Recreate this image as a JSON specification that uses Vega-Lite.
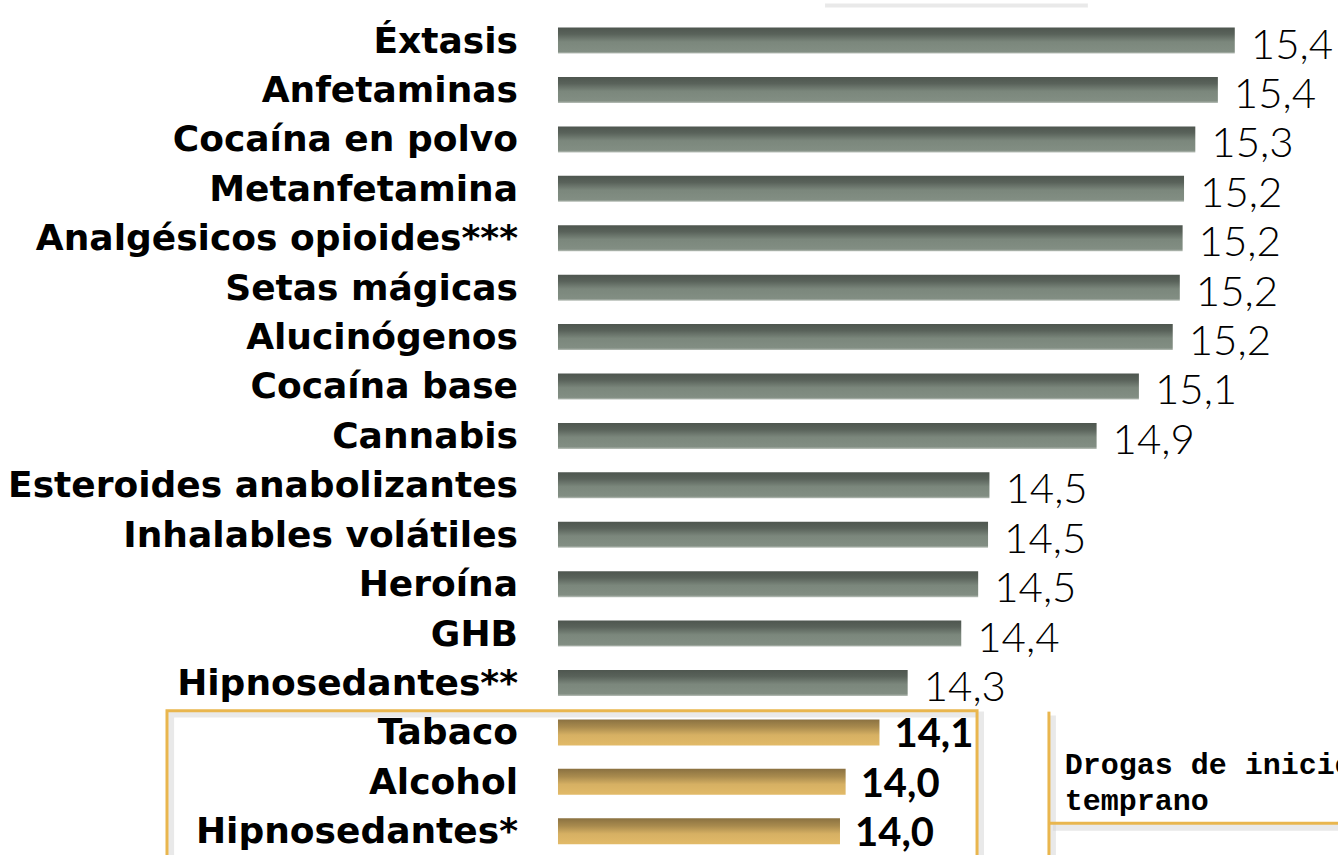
{
  "$schema": "https://vega.github.io/schema/vega-lite/v6.json",
  "width": 1338,
  "height": 855,
  "autosize": {"type": "none"},
  "padding": 0,
  "background": "white",
  "config": {"view": {"stroke": null}},
  "data": {
    "values": [
      {"orden": 1, "droga": "Éxtasis", "valor": 15.40, "etiqueta": "15,4", "grupo": "otras"},
      {"orden": 2, "droga": "Anfetaminas", "valor": 15.34, "etiqueta": "15,4", "grupo": "otras"},
      {"orden": 3, "droga": "Cocaína en polvo", "valor": 15.26, "etiqueta": "15,3", "grupo": "otras"},
      {"orden": 4, "droga": "Metanfetamina", "valor": 15.22, "etiqueta": "15,2", "grupo": "otras"},
      {"orden": 5, "droga": "Analgésicos opioides***", "valor": 15.215, "etiqueta": "15,2", "grupo": "otras"},
      {"orden": 6, "droga": "Setas mágicas", "valor": 15.205, "etiqueta": "15,2", "grupo": "otras"},
      {"orden": 7, "droga": "Alucinógenos", "valor": 15.18, "etiqueta": "15,2", "grupo": "otras"},
      {"orden": 8, "droga": "Cocaína base", "valor": 15.06, "etiqueta": "15,1", "grupo": "otras"},
      {"orden": 9, "droga": "Cannabis", "valor": 14.91, "etiqueta": "14,9", "grupo": "otras"},
      {"orden": 10, "droga": "Esteroides anabolizantes", "valor": 14.53, "etiqueta": "14,5", "grupo": "otras"},
      {"orden": 11, "droga": "Inhalables volátiles", "valor": 14.525, "etiqueta": "14,5", "grupo": "otras"},
      {"orden": 12, "droga": "Heroína", "valor": 14.49, "etiqueta": "14,5", "grupo": "otras"},
      {"orden": 13, "droga": "GHB", "valor": 14.43, "etiqueta": "14,4", "grupo": "otras"},
      {"orden": 14, "droga": "Hipnosedantes**", "valor": 14.24, "etiqueta": "14,3", "grupo": "otras"},
      {"orden": 15, "droga": "Tabaco", "valor": 14.14, "etiqueta": "14,1", "grupo": "inicio"},
      {"orden": 16, "droga": "Alcohol", "valor": 14.02, "etiqueta": "14,0", "grupo": "inicio"},
      {"orden": 17, "droga": "Hipnosedantes*", "valor": 14.0, "etiqueta": "14,0", "grupo": "inicio"}
    ]
  },
  "layer": [
    {
      "data": {"values": [{}]},
      "mark": {"type": "rect", "filled": false, "stroke": "#d4d4d4", "strokeWidth": 6, "strokeOpacity": 0.5},
      "encoding": {
        "x": {"datum": 11.628, "type": "quantitative", "scale": {"domain": [11.0213, 15.766], "nice": false, "zero": false}, "axis": null},
        "x2": {"datum": 14.50},
        "y": {"datum": 14.64, "type": "quantitative", "scale": {"domain": [0.28, 17.38], "reverse": true, "nice": false, "zero": false}, "axis": null},
        "y2": {"datum": 17.8}
      }
    },
    {
      "data": {"values": [{}]},
      "mark": {"type": "rect", "filled": false, "stroke": "#e9b64e", "strokeWidth": 3},
      "encoding": {
        "x": {"datum": 11.6135, "type": "quantitative"},
        "x2": {"datum": 14.486},
        "y": {"datum": 14.56, "type": "quantitative"},
        "y2": {"datum": 17.8}
      }
    },
    {
      "data": {"values": [{}]},
      "mark": {"type": "rule", "stroke": "#d4d4d4", "strokeWidth": 6, "strokeOpacity": 0.5},
      "encoding": {
        "x": {"datum": 14.755, "type": "quantitative"},
        "y": {"datum": 14.66, "type": "quantitative"},
        "y2": {"datum": 17.8}
      }
    },
    {
      "data": {"values": [{}]},
      "mark": {"type": "rule", "stroke": "#d4d4d4", "strokeWidth": 7, "strokeOpacity": 0.5},
      "encoding": {
        "x": {"datum": 14.755, "type": "quantitative"},
        "x2": {"datum": 15.9},
        "y": {"datum": 16.92, "type": "quantitative"}
      }
    },
    {
      "data": {"values": [{}]},
      "mark": {"type": "rule", "stroke": "#e9b64e", "strokeWidth": 3},
      "encoding": {
        "x": {"datum": 14.741, "type": "quantitative"},
        "y": {"datum": 14.58, "type": "quantitative"},
        "y2": {"datum": 17.8}
      }
    },
    {
      "data": {"values": [{}]},
      "mark": {"type": "rule", "stroke": "#e9b64e", "strokeWidth": 3},
      "encoding": {
        "x": {"datum": 14.741, "type": "quantitative"},
        "x2": {"datum": 15.9},
        "y": {"datum": 16.84, "type": "quantitative"}
      }
    },
    {
      "data": {"values": [{}]},
      "mark": {"type": "rule", "stroke": "#e4e4e4", "strokeWidth": 4, "strokeOpacity": 0.8},
      "encoding": {
        "x": {"datum": 13.947, "type": "quantitative"},
        "x2": {"datum": 14.879},
        "y": {"datum": 0.29, "type": "quantitative"}
      }
    },
    {
      "data": {"values": [{}]},
      "mark": {"type": "text", "text": ["Drogas de inicio", "temprano"], "align": "left", "baseline": "alphabetic", "font": "Liberation Mono", "fontWeight": "bold", "fontSize": 30, "lineHeight": 36, "color": "#000000"},
      "encoding": {
        "x": {"datum": 14.797, "type": "quantitative"},
        "y": {"datum": 15.84, "type": "quantitative"}
      }
    },
    {
      "transform": [{"filter": "datum.grupo === 'otras'"}],
      "mark": {"type": "bar", "orient": "horizontal", "size": 26,
        "fill": {"gradient": "linear", "x1": 0, "y1": 0, "x2": 0, "y2": 1,
          "stops": [{"offset": 0, "color": "#4e564f"}, {"offset": 0.25, "color": "#59625a"}, {"offset": 0.55, "color": "#7b877c"}, {"offset": 0.92, "color": "#828e83"}, {"offset": 1, "color": "#b9c0b9"}]}},
      "encoding": {
        "x": {"field": "valor", "type": "quantitative"},
        "x2": {"datum": 13},
        "y": {"field": "orden", "type": "quantitative"}
      }
    },
    {
      "transform": [{"filter": "datum.grupo === 'inicio'"}],
      "mark": {"type": "bar", "orient": "horizontal", "size": 26,
        "fill": {"gradient": "linear", "x1": 0, "y1": 0, "x2": 0, "y2": 1,
          "stops": [{"offset": 0, "color": "#8a7141"}, {"offset": 0.3, "color": "#a98b4e"}, {"offset": 0.6, "color": "#d6b063"}, {"offset": 1, "color": "#e2ba68"}]}},
      "encoding": {
        "x": {"field": "valor", "type": "quantitative"},
        "x2": {"datum": 13},
        "y": {"field": "orden", "type": "quantitative"}
      }
    },
    {
      "mark": {"type": "text", "align": "right", "baseline": "alphabetic", "dx": -40, "dy": 12, "font": "DejaVu Sans", "fontWeight": "bold", "fontSize": 36, "color": "#000000"},
      "encoding": {
        "x": {"datum": 13, "type": "quantitative"},
        "y": {"field": "orden", "type": "quantitative"},
        "text": {"field": "droga"}
      }
    },
    {
      "transform": [{"filter": "datum.grupo === 'otras'"}],
      "mark": {"type": "text", "align": "left", "baseline": "alphabetic", "dx": 16, "dy": 18, "font": "Lato", "fontWeight": 300, "fontSize": 42, "color": "#000000"},
      "encoding": {
        "x": {"field": "valor", "type": "quantitative"},
        "y": {"field": "orden", "type": "quantitative"},
        "text": {"field": "etiqueta"}
      }
    },
    {
      "transform": [{"filter": "datum.grupo === 'inicio'"}],
      "mark": {"type": "text", "align": "left", "baseline": "alphabetic", "dx": 15, "dy": 15, "font": "Lato", "fontWeight": "bold", "fontSize": 40, "color": "#000000"},
      "encoding": {
        "x": {"field": "valor", "type": "quantitative"},
        "y": {"field": "orden", "type": "quantitative"},
        "text": {"field": "etiqueta"}
      }
    }
  ]
}
